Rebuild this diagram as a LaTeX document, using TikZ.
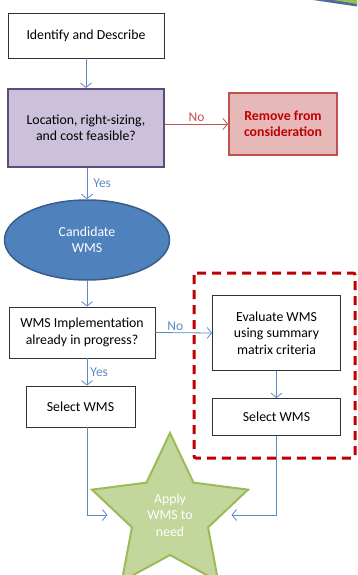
\documentclass[tikz,border=0pt]{standalone}
\usepackage{fontspec}
\setmainfont{Carlito}
\usetikzlibrary{arrows.meta,shapes.geometric}
\definecolor{lineblue}{HTML}{5B8BC7}
\definecolor{fillblue}{HTML}{4F81BD}
\definecolor{darkblue}{HTML}{385D8A}
\definecolor{purplefill}{HTML}{CCC1DA}
\definecolor{purpleline}{HTML}{604A7B}
\definecolor{redfill}{HTML}{E6B9B8}
\definecolor{redline}{HTML}{C0504D}
\definecolor{darkred}{HTML}{C00000}
\definecolor{starfill}{HTML}{C3D69B}
\definecolor{starline}{HTML}{9BBB59}
\tikzset{
  box/.style={draw=black!80, line width=0.8pt, fill=white, align=center, inner sep=0pt},
  lbl/.style={font=\fontsize{13.5}{16}\selectfont, inner sep=2pt}
}
\begin{document}
\begin{tikzpicture}[x=1pt, y=-1pt, >={Straight Barb[length=4.5pt,width=11pt]},
  font=\fontsize{13.8}{16.5}\selectfont, line width=0.8pt]
\useasboundingbox (0,0) rectangle (357,575);
\clip (0,0) rectangle (357,575);

% corner of the slide
\fill[darkblue!90] (313,0) -- (357,0) -- (357,6.5) -- cycle;
\fill[starline] (333,0) -- (357,0) -- (357,4) -- cycle;

\node[box, minimum width=156pt, minimum height=45pt] (ident) at (86,35.5) {Identify and Describe};
\node[box, draw=purpleline, fill=purplefill, line width=2pt, minimum width=156pt, minimum height=78pt] (feas) at (86,128)
  {Location, right-sizing,\\and cost feasible?};
\node[box, draw=redline, fill=redfill, line width=2pt, minimum width=108pt, minimum height=62pt,
  text=darkred, font=\fontsize{13.8}{16.5}\selectfont\bfseries] (remove) at (283,124) {Remove from\\consideration};
\node[ellipse, draw=darkblue, fill=fillblue, line width=1.5pt, minimum width=165pt, minimum height=80pt,
  text=white, align=center, inner sep=0pt] (cand) at (87,240) {Candidate\\WMS};
\node[box, minimum width=146pt, minimum height=51pt] (inprog) at (82,332.5) {WMS Implementation\\already in progress?};
\node[box, minimum width=109pt, minimum height=41pt] (selA) at (80.5,406.5) {Select WMS};
\node[box, minimum width=128pt, minimum height=75pt] (evalw) at (276.5,333) {Evaluate WMS\\using summary\\matrix criteria};
\node[box, minimum width=128pt, minimum height=37pt] (selB) at (276.5,417) {Select WMS};
\node[star, star points=5, star point ratio=2.05, minimum size=164pt, inner sep=0pt,
  draw=starline, fill=starfill, line width=2pt, text=white, align=center] (apply) at (170,515) {Apply\\WMS to\\need};

\draw[darkred, line width=3pt, dash pattern=on 9pt off 6pt, rounded corners=2pt] (194,273) rectangle (355,458);

\draw[->, lineblue] (ident) -- (feas);
\draw[->, redline] (feas.east |- remove) -- node[lbl, above, text=redline]{No} (remove);
\draw[->, lineblue] (feas.south -| cand) -- node[lbl, right, text=lineblue, xshift=4pt]{Yes} (cand);
\draw[->, lineblue] (cand) -- (cand |- inprog.north);
\draw[->, lineblue] (inprog.east) -- node[lbl, above, pos=0.35, text=lineblue]{No} (evalw.west);
\draw[->, lineblue] (inprog.south -| cand) -- node[lbl, right, text=lineblue, xshift=1pt]{Yes} (selA.north -| cand);
\draw[->, lineblue] (evalw) -- (selB);
\draw[->, lineblue, shorten >=10pt] (selA.south -| cand) |- (apply);
\draw[->, lineblue, shorten >=9pt] (selB) |- (apply);

\end{tikzpicture}
\end{document}
